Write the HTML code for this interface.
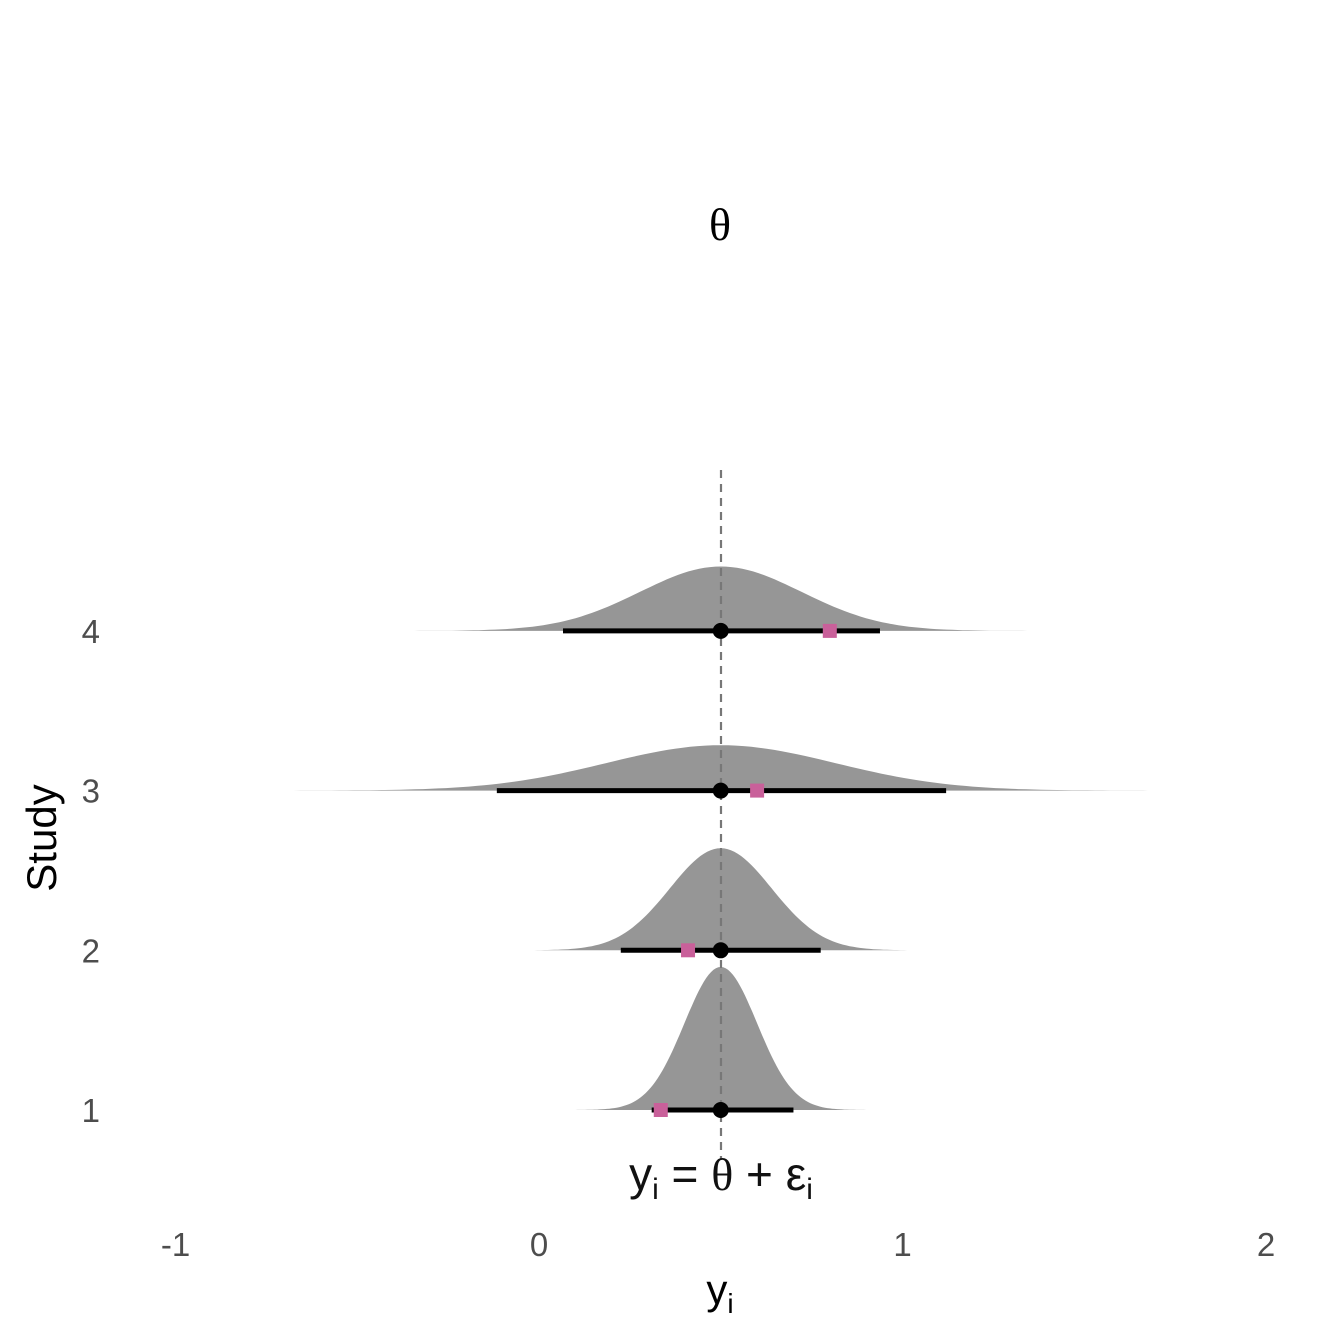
<!DOCTYPE html>
<html><head><meta charset="utf-8"><style>
body{margin:0;background:#fff}
svg{display:block}
text{font-family:"Liberation Sans",sans-serif}
</style></head><body>
<svg id="chart" width="1344" height="1344" viewBox="0 0 1344 1344" xmlns="http://www.w3.org/2000/svg">
<g id="dens"></g>
<line x1="721" y1="470" x2="721" y2="1160" stroke="#777" stroke-width="2.2" stroke-dasharray="8,6"/>
<g id="marks"></g>
<text x="720" y="240" text-anchor="middle" font-size="46" style="font-family:'Liberation Serif',serif">θ</text>
<text x="721" y="1190" text-anchor="middle" font-size="46" fill="#111">y<tspan font-size="30" dy="9">i</tspan><tspan dy="-9"> = </tspan><tspan style="font-family:'Liberation Serif',serif">θ</tspan> + ε<tspan font-size="30" dy="9">i</tspan></text>
<g id="axes" font-size="33" fill="#4d4d4d"></g>
<text transform="translate(56,838) rotate(-90)" text-anchor="middle" font-size="42" fill="#000">Study</text>
<text x="720" y="1304" text-anchor="middle" font-size="42" fill="#000">y<tspan font-size="28" dy="9">i</tspan></text>
</svg>
<script>
const studies=[1,2,3,4];
const means=[0.5,0.5,0.5,0.5];
const sds=[0.1,0.14,0.315,0.222];
const lower=[0.31,0.225,-0.116,0.066];
const upper=[0.70,0.775,1.12,0.938];
const observed=[0.335,0.41,0.6,0.8];
const xTicks=[-1,0,1,2];
const xs=v=>539+v*363.5;
const ys=s=>1110-(s-1)*159.7;
const NS="http://www.w3.org/2000/svg";
const dens=document.getElementById('dens'),marks=document.getElementById('marks'),axes=document.getElementById('axes');
function mk(tag,attrs,parent){const e=document.createElementNS(NS,tag);for(const k in attrs)e.setAttribute(k,attrs[k]);parent.appendChild(e);return e;}
studies.forEach((s,i)=>{
  const m=means[i],sd=sds[i],base=ys(s);
  let d=`M${xs(m-5*sd)},${base}`;
  for(let k=0;k<=150;k++){const v=m-5*sd+10*sd*k/150;const h=14.3/sd*Math.exp(-0.5*((v-m)/sd)**2);d+=` L${xs(v).toFixed(1)},${(base-h).toFixed(1)}`;}
  d+=` L${xs(m+5*sd)},${base} Z`;
  const p=mk('path',{d:d,fill:'#969696'},dens);
  
  
  const l=mk('line',{x1:xs(lower[i]),x2:xs(upper[i]),y1:base,y2:base,stroke:'#000','stroke-width':5},marks);
  
  
  const q=mk('rect',{x:xs(observed[i])-7,y:base-7,width:14,height:14,fill:'#c9609a'},marks);
  
  
  const c=mk('circle',{cx:xs(m),cy:base,r:8,fill:'#000'},marks);
  
  
  const t=mk('text',{x:100,y:base+12,'text-anchor':'end'},axes);t.textContent=s;
  
  
});
xTicks.forEach(v=>{const t=mk('text',{x:xs(v),y:1256,'text-anchor':'middle'},axes);t.textContent=v;
  
  });
</script>
</body></html>
